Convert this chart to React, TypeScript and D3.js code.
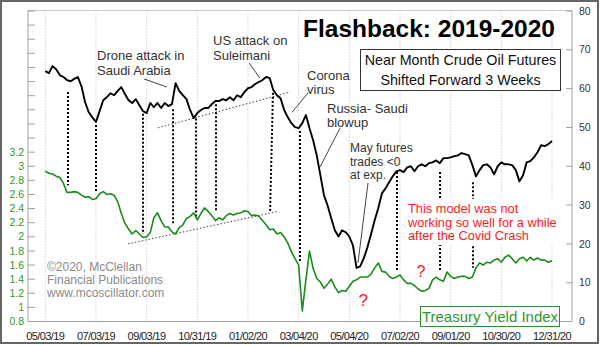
import React from "react";
import * as d3 from "d3";

// ---------- data ----------
const tickDates = ["05/03/19", "07/03/19", "09/03/19", "10/31/19", "01/02/20", "03/04/20", "05/04/20", "07/02/20", "09/01/20", "10/30/20", "12/31/20"];
const tickIndex = [0, 42, 84, 126, 168, 210, 252, 294, 336, 378, 420];
const sampleStep = 3; // trading days between samples

// Near month crude oil futures, shifted forward 3 weeks (right axis)
const oilValues = [
  64.5, 64.0, 65.8, 65.0, 63.5, 63.0, 62.2, 61.9, 62.5, 63.0,
  60.6, 56.5, 53.9, 52.6, 51.4, 54.2, 57.0, 57.8, 58.8, 58.3,
  59.4, 60.4, 58.6, 57.0, 56.3, 57.3, 55.7, 54.2, 53.7, 56.3,
  55.2, 56.3, 55.0, 56.3, 55.5, 56.0, 61.4, 59.4, 58.3, 57.3,
  54.5, 52.4, 53.7, 54.5, 55.0, 55.0, 56.0, 56.8, 56.8, 57.3,
  57.0, 57.8, 57.0, 58.3, 57.8, 59.1, 60.1, 60.4, 61.2, 61.7,
  62.2, 63.0, 62.7, 59.6, 58.3, 57.5, 54.5, 52.6, 51.1, 50.1,
  49.8, 51.1, 53.2, 49.8, 46.7, 42.8, 37.7, 32.5, 29.9, 26.6,
  23.5, 21.9, 23.5, 23.0, 21.9, 19.6, 13.8, 14.2, 16.3, 19.1,
  22.5, 26.1, 29.2, 33.0, 34.3, 35.9, 37.4, 38.7, 39.0, 38.5,
  39.7, 40.0, 38.7, 40.0, 40.5, 40.0, 40.8, 41.0, 41.5, 40.8,
  42.1, 42.1, 42.3, 42.6, 42.8, 43.4, 43.1, 42.8, 40.3, 37.4,
  39.0, 40.3, 40.5, 39.7, 37.9, 40.0, 41.0, 40.5, 40.5, 40.3,
  39.0, 36.1, 37.7, 41.0, 41.3, 42.3, 43.6, 45.4, 45.2, 45.7,
  46.5,
];

// Treasury Yield Index (left axis)
const yieldValues = [
  2.93, 2.90, 2.89, 2.86, 2.84, 2.76, 2.63, 2.63, 2.64, 2.63,
  2.59, 2.56, 2.57, 2.53, 2.54, 2.61, 2.64, 2.60, 2.61, 2.59,
  2.50, 2.33, 2.19, 2.11, 2.04, 2.09, 2.04, 1.99, 2.00, 2.06,
  2.27, 2.34, 2.23, 2.14, 2.14, 2.07, 2.04, 2.13, 2.17, 2.26,
  2.29, 2.34, 2.24, 2.33, 2.41, 2.36, 2.30, 2.23, 2.27, 2.24,
  2.30, 2.33, 2.31, 2.33, 2.34, 2.37, 2.36, 2.30, 2.31, 2.29,
  2.23, 2.17, 2.10, 2.11, 2.04, 2.06, 2.00, 1.91, 1.79, 1.69,
  1.60, 0.95, 1.39, 1.80, 1.55, 1.41, 1.36, 1.27, 1.33, 1.40,
  1.29, 1.21, 1.24, 1.23, 1.30, 1.37, 1.39, 1.43, 1.43, 1.43,
  1.47, 1.56, 1.63, 1.51, 1.50, 1.44, 1.41, 1.43, 1.46, 1.39,
  1.34, 1.34, 1.31, 1.26, 1.23, 1.24, 1.27, 1.39, 1.43, 1.39,
  1.37, 1.50, 1.44, 1.41, 1.43, 1.44, 1.44, 1.41, 1.43, 1.56,
  1.63, 1.60, 1.64, 1.63, 1.67, 1.69, 1.64, 1.71, 1.74, 1.69,
  1.63, 1.69, 1.71, 1.66, 1.71, 1.67, 1.70, 1.67, 1.67, 1.64,
  1.66,
];

const oilTicks = [0, 10, 20, 30, 40, 50, 60, 70, 80];
const yieldTickLabels = ["0.8", "1", "1.2", "1.4", "1.6", "1.8", "2", "2.2", "2.4", "2.6", "2.8", "3", "3.2"];
const yieldTickMarks = d3.range(0, 23).map((i) => 0.8 + i * 0.2);

// dotted connectors: [index at oil, oil value, index at yield, yield value]
const connectors: [number, number, number, number][] = [
  [18.8, 59.1, 18.8, 2.73],
  [42.0, 50.6, 42.0, 2.65],
  [81.0, 53.5, 81.0, 2.04],
  [105.9, 54.7, 105.9, 2.19],
  [124.9, 52.3, 124.9, 2.27],
  [141.5, 56.0, 141.5, 2.35],
  [188.7, 58.9, 186.3, 2.34],
  [211.1, 49.1, 211.1, 1.63],
  [291.5, 38.5, 291.5, 1.53],
  [327.2, 38.5, 327.2, 1.5],
  [354.5, 35.9, 354.5, 1.56],
];

// trend lines
const oilTrend: [number, number][] = [[93.4, 49.9], [202.8, 59.1]];
const yieldTrend: [number, number][] = [[68.6, 1.9], [192.9, 2.36]];

// annotation leader lines (oil scale): [i1, v1, i2, v2]
const leaders: [number, number, number, number][] = [
  [81.8, 62.5, 100.9, 60.4],
  [168.9, 66.6, 177.9, 62.7],
  [217.8, 58.9, 204.5, 53.9],
  [244.3, 49.8, 227.7, 39.8],
  [267.5, 35.7, 259.2, 15.1],
];

// ---------- layout ----------
const W = 600;
const H = 346;
const left = 28;
const right = 572;
const top = 10.5;
const bottom = 321.5;
const FONT = "'Liberation Sans', Arial, Helvetica, sans-serif";
const GREEN = "#1a8c1a";
const GREEN_TXT = "#2b9a2b";

export default function App() {
  const x = d3.scaleLinear().domain([0, 420]).range([45.3, 552]);
  const yOil = d3.scaleLinear().domain([0, 80]).range([bottom, 11]);
  const yYld = d3.scaleLinear().domain([0.8, 5.2]).range([bottom, 11]);

  const oilLine = d3
    .line<number>()
    .x((_, i) => x(i * sampleStep))
    .y((d) => yOil(d));
  const yldLine = d3
    .line<number>()
    .x((_, i) => x(i * sampleStep))
    .y((d) => yYld(d));

  return (
    <svg
      width={W}
      height={H}
      style={{ position: "absolute", left: 0, top: 0, background: "#fff" }}
      fontFamily={FONT}
    >
      <rect x={0} y={0} width={W} height={H} fill="#fff" />
      <rect x={1} y={1} width={597} height={342} fill="none" stroke="#666" strokeWidth={2} />

      {/* vertical grid */}
      {tickIndex.map((t) => (
        <line
          key={"g" + t}
          x1={x(t)}
          x2={x(t)}
          y1={top}
          y2={bottom}
          stroke="#bdbdbd"
          strokeWidth={1}
          strokeDasharray="1,2"
        />
      ))}

      {/* plot frame */}
      <line x1={left} x2={right} y1={top} y2={top} stroke="#c8c8c8" />
      <line x1={left} x2={left} y1={top} y2={bottom} stroke="#a0a0a0" />
      <line x1={right} x2={right} y1={top} y2={bottom} stroke="#a0a0a0" />
      <line x1={left} x2={right} y1={bottom} y2={bottom} stroke="#a0a0a0" />

      {/* left ticks */}
      {yieldTickMarks.map((v, i) => (
        <line key={"lt" + i} x1={left} x2={left + 7} y1={yYld(v)} y2={yYld(v)} stroke="#a0a0a0" />
      ))}
      {yieldTickLabels.map((s) => (
        <text
          key={"ll" + s}
          x={24}
          y={yYld(parseFloat(s))}
          dy="0.35em"
          textAnchor="end"
          fontSize={10.5}
          fill={GREEN_TXT}
        >
          {s}
        </text>
      ))}

      {/* right ticks */}
      {oilTicks.map((v) => (
        <g key={"rt" + v}>
          <line x1={right - 6} x2={right} y1={yOil(v)} y2={yOil(v)} stroke="#a0a0a0" />
          <text x={579} y={yOil(v)} dy="0.35em" fontSize={10.5} fill="#333">
            {v}
          </text>
        </g>
      ))}

      {/* bottom labels */}
      {tickIndex.map((t, i) => (
        <text
          key={"bl" + t}
          x={x(t)}
          y={340}
          textAnchor="middle"
          fontSize={11}
          letterSpacing={-0.6}
          fill="#222"
        >
          {tickDates[i]}
        </text>
      ))}

      {/* trend lines */}
      <line
        x1={x(oilTrend[0][0])}
        y1={yOil(oilTrend[0][1])}
        x2={x(oilTrend[1][0])}
        y2={yOil(oilTrend[1][1])}
        stroke="#444"
        strokeWidth={1}
        strokeDasharray="1.5,2"
      />
      <line
        x1={x(yieldTrend[0][0])}
        y1={yYld(yieldTrend[0][1])}
        x2={x(yieldTrend[1][0])}
        y2={yYld(yieldTrend[1][1])}
        stroke="#444"
        strokeWidth={1}
        strokeDasharray="1.5,2"
      />

      {/* dotted connectors */}
      {connectors.map((c, i) => (
        <line
          key={"c" + i}
          x1={x(c[0])}
          y1={yOil(c[1])}
          x2={x(c[2])}
          y2={yYld(c[3])}
          stroke="#000"
          strokeWidth={2}
          strokeDasharray="2,2"
        />
      ))}

      {/* series */}
      <path d={yldLine(yieldValues) || ""} fill="none" stroke={GREEN} strokeWidth={1.6} strokeLinejoin="round" />
      <path d={oilLine(oilValues) || ""} fill="none" stroke="#000" strokeWidth={1.9} strokeLinejoin="round" />

      {/* leaders */}
      {leaders.map((l, i) => (
        <line
          key={"ld" + i}
          x1={x(l[0])}
          y1={yOil(l[1])}
          x2={x(l[2])}
          y2={yOil(l[3])}
          stroke="#444"
          strokeWidth={1}
        />
      ))}

      {/* annotations */}
      <g fontSize={13} fill="#333">
        <text x={97} y={60}>Drone attack in</text>
        <text x={97} y={74.5}>Saudi Arabia</text>
        <text x={213} y={45}>US attack on</text>
        <text x={213} y={59.5}>Suleimani</text>
        <text x={307} y={79.5}>Corona</text>
        <text x={307} y={93.5}>virus</text>
        <text x={327} y={113}>Russia- Saudi</text>
        <text x={327} y={127}>blowup</text>
      </g>
      <g fontSize={12} fill="#333">
        <text x={350} y={152}>May futures</text>
        <text x={350} y={165.5}>trades &lt;0</text>
        <text x={350} y={178.5}>at exp.</text>
      </g>

      <text x={303} y={37} fontSize={24.5} fontWeight="bold" fill="#000">
        Flashback: 2019-2020
      </text>

      <rect x={360.5} y={49.5} width={200} height={41} fill="#fff" stroke="#333" strokeWidth={1} />
      <text x={460.5} y={64.5} textAnchor="middle" fontSize={14.3} fill="#111">
        Near Month Crude Oil Futures
      </text>
      <text x={460.5} y={84.5} textAnchor="middle" fontSize={14.3} fill="#111">
        Shifted Forward 3 Weeks
      </text>

      <rect x={405} y={199} width={152} height={46} fill="#fff" />
      <g fontSize={12.8} fill="#ff1a1a">
        <text x={408} y={213}>This model was not</text>
        <text x={408} y={226.5}>working so well for a while</text>
        <text x={408} y={240}>after the Covid Crash</text>
      </g>
      <text x={358.5} y={306} fontSize={17} fill="#ff1a1a">?</text>
      <text x={416.5} y={277} fontSize={16} fill="#ff1a1a">?</text>

      <g fontSize={12} fill="#8a8a8a">
        <text x={47} y={271}>©2020, McClellan</text>
        <text x={47} y={284}>Financial Publications</text>
        <text x={47} y={297}>www.mcoscillator.com</text>
      </g>

      <rect x={420.5} y={306.5} width={139} height={20} fill="#fff" stroke="#2e8b2e" strokeWidth={1} />
      <text x={490} y={322} textAnchor="middle" fontSize={15} fill={GREEN_TXT}>
        Treasury Yield Index
      </text>
    </svg>
  );
}
